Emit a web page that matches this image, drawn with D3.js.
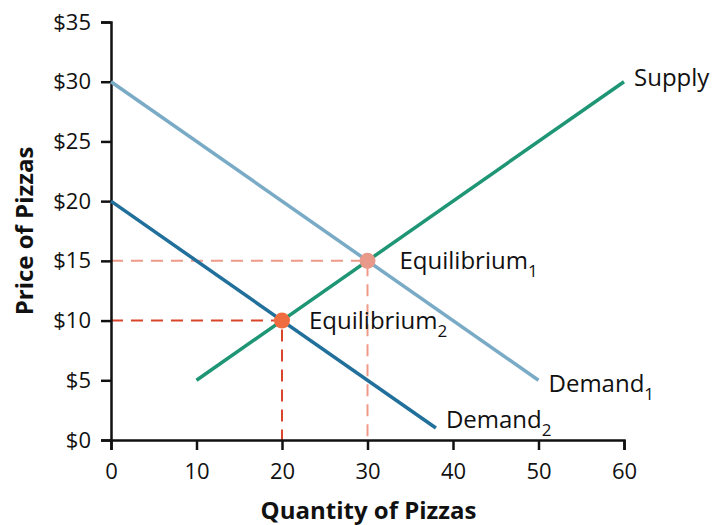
<!DOCTYPE html>
<html lang="en">
<head>
<meta charset="utf-8">
<title>Pizza supply and demand</title>
<script src="https://d3js.org/d3.v7.min.js"></script>
<style>
  body { margin: 0; background: white; }
  text { font-family: "Open Sans", "Noto Sans", sans-serif; fill: #111; }
</style>
</head>
<body>
<script>
// data
const supply = [[10, 5], [60, 30]];
const demand1 = [[0, 30], [50, 5]];
const demand2 = [[0, 20], [38, 1]];
const equilibria = [
  {name: "Equilibrium", sub: "1", q: 30, p: 15},
  {name: "Equilibrium", sub: "2", q: 20, p: 10}
];
const xTicks = [0, 10, 20, 30, 40, 50, 60];
const yTicks = [0, 5, 10, 15, 20, 25, 30, 35];

const width = 713, height = 525;
const margin = {left: 111, top: 22, right: 89, bottom: 85};

const svg = d3.select("body").append("svg")
    .attr("width", width)
    .attr("height", height);

const x = d3.scaleLinear().domain([0, 60]).range([margin.left, width - margin.right]);
const y = d3.scaleLinear().domain([0, 35]).range([height - margin.bottom, margin.top]);

const eqColor = {"1": "#e8998a", "2": "#ee6c3f"};
const dashColor = {"1": "#ee9a88", "2": "#d9452b"};

// dashed guide lines
equilibria.forEach(function(e) {
  svg.append("path")
    .attr("d", "M" + x(0) + "," + y(e.p) + "H" + x(e.q) + "V" + y(0))
    .attr("fill", "none")
    .attr("stroke", dashColor[e.sub])
    .attr("stroke-width", 2)
    .attr("stroke-dasharray", "12,8");
});

// axes
const xAxis = svg.append("g")
    .attr("transform", "translate(0," + y(0) + ")")
    .call(d3.axisBottom(x).tickValues(xTicks).tickSize(10).tickSizeOuter(10).tickPadding(13));
const yAxis = svg.append("g")
    .attr("transform", "translate(" + x(0) + ",0)")
    .call(d3.axisLeft(y).tickValues(yTicks).tickSize(10).tickSizeOuter(10).tickPadding(10)
      .tickFormat(function(d) { return "$" + d; }));

[xAxis, yAxis].forEach(function(a) {
  a.attr("font-size", null).attr("font-family", null);
  a.select(".domain").attr("stroke", "#111").attr("stroke-width", 2.5);
  a.selectAll(".tick line").attr("stroke", "#111").attr("stroke-width", 2.5);
  a.selectAll(".tick text")
    .style("font-size", "22px")
    .attr("fill", "#111");
});

const line = d3.line().x(function(d) { return x(d[0]); }).y(function(d) { return y(d[1]); });

svg.append("path").datum(demand1).attr("d", line)
    .attr("stroke", "#7aabc6").attr("stroke-width", 3.5).attr("fill", "none");
svg.append("path").datum(demand2).attr("d", line)
    .attr("stroke", "#21709b").attr("stroke-width", 3.5).attr("fill", "none");
svg.append("path").datum(supply).attr("d", line)
    .attr("stroke", "#1e9675").attr("stroke-width", 3.5).attr("fill", "none");

// equilibrium points
svg.selectAll(".eq")
  .data(equilibria)
  .enter().append("circle")
    .attr("class", "eq")
    .attr("cx", function(d) { return x(d.q); })
    .attr("cy", function(d) { return y(d.p); })
    .attr("r", 8)
    .attr("fill", function(d) { return eqColor[d.sub]; });

// labels
function label(tx, ty, main, sub) {
  const t = svg.append("text")
    .attr("x", tx).attr("y", ty)
    .style("font-size", "24px");
  t.append("tspan").text(main);
  if (sub) {
    t.append("tspan").attr("dy", 8).style("font-size", "17px").text(sub);
  }
}

label(x(60) + 10, y(30) + 4, "Supply");
label(x(30) + 32, y(15) + 8, "Equilibrium", "1");
label(x(20) + 27, y(10) + 8, "Equilibrium", "2");
label(x(50) + 10, y(5) + 12, "Demand", "1");
label(x(38) + 10, y(1), "Demand", "2");

// axis titles
svg.append("text")
    .attr("x", (x(0) + x(60)) / 2 + 1)
    .attr("y", 519)
    .attr("text-anchor", "middle")
    .style("font-size", "24px")
    .style("font-weight", "bold")
    .text("Quantity of Pizzas");

svg.append("text")
    .attr("transform", "translate(33," + ((y(0) + y(35)) / 2) + ") rotate(-90)")
    .attr("text-anchor", "middle")
    .style("font-size", "24px")
    .style("font-weight", "bold")
    .text("Price of Pizzas");
</script>
</body>
</html>
